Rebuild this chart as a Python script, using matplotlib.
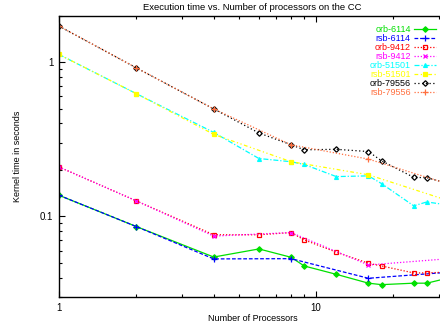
import matplotlib.pyplot as plt
from matplotlib.ticker import LogLocator, NullFormatter, FixedLocator, FixedFormatter

plt.rcParams["font.family"] = ["Liberation Sans", "DejaVu Sans"]

# processor counts
procs_orb = [1, 2, 4, 6, 8, 9, 12, 16, 18, 24, 27, 32]
procs_rsb = [1, 2, 4, 8, 16, 32]

# kernel time in seconds
orb_6114 = [0.137, 0.0859, 0.0545, 0.0615, 0.0543, 0.0477, 0.0421, 0.0369, 0.0361, 0.0369, 0.0369, 0.0395]
rsb_6114 = [0.137, 0.0859, 0.053, 0.0532, 0.0397, 0.0433]
orb_9412 = [0.209, 0.126, 0.076, 0.076, 0.0785, 0.0704, 0.0586, 0.0497, 0.0477, 0.043, 0.043, 0.0435]
rsb_9412 = [0.209, 0.126, 0.0745, 0.0785, 0.0484, 0.053]
orb_51501 = [1.12, 0.624, 0.350, 0.237, 0.226, 0.217, 0.181, 0.183, 0.163, 0.117, 0.124, 0.119]
rsb_51501 = [1.12, 0.624, 0.340, 0.226, 0.186, 0.128]
orb_79556 = [1.71, 0.917, 0.497, 0.347, 0.291, 0.270, 0.272, 0.263, 0.229, 0.179, 0.178, 0.165]
rsb_79556 = [1.71, 0.917, 0.497, 0.291, 0.235, 0.164]

SERIES = [
    ("orb-6114", procs_orb, orb_6114, "#00e000", "-", "D", True),
    ("rsb-6114", procs_rsb, rsb_6114, "#0000ff", (0, (3, 1.5)), "+", True),
    ("orb-9412", procs_orb, orb_9412, "#ff0000", (0, (1, 1.5)), "s", False),
    ("rsb-9412", procs_rsb, rsb_9412, "#ff00ff", (0, (1, 1.5)), "x", True),
    ("orb-51501", procs_orb, orb_51501, "#00ffff", (0, (4, 1.5, 1, 1.5)), "^", True),
    ("rsb-51501", procs_rsb, rsb_51501, "#ffff00", (0, (3, 2, 1, 2, 1, 2)), "s", True),
    ("orb-79556", procs_orb, orb_79556, "#000000", (0, (1, 2)), "D", False),
    ("rsb-79556", procs_rsb, rsb_79556, "#ff7040", (0, (1, 1.5)), "+", True),
]


def main() -> None:
    fig = plt.figure(figsize=(4.4, 3.25), dpi=100)
    ax = fig.add_axes([0.134, 0.086, 1.0132 - 0.134, 0.866])

    for label, xs, ys, color, ls, marker, filled in SERIES:
        ax.plot(
            xs, ys, color=color, linestyle=ls, linewidth=0.9,
            marker=marker, markersize=2.8 if marker != "+" else 4,
            markerfacecolor=color if filled else "none",
            markeredgecolor=color, markeredgewidth=0.9, label=label,
        )

    ax.set_xscale("log")
    ax.set_yscale("log")
    ax.set_xlim(1, 32)
    ax.set_ylim(0.03, 2.0)

    ax.xaxis.set_major_locator(FixedLocator([1, 10]))
    ax.xaxis.set_major_formatter(FixedFormatter(["1", "10"]))
    ax.xaxis.set_minor_locator(LogLocator(base=10, subs=range(2, 10)))
    ax.xaxis.set_minor_formatter(NullFormatter())
    ax.yaxis.set_major_locator(FixedLocator([0.1, 1]))
    ax.yaxis.set_major_formatter(FixedFormatter(["0.1", "1"]))
    ax.yaxis.set_minor_locator(LogLocator(base=10, subs=range(2, 10)))
    ax.yaxis.set_minor_formatter(NullFormatter())

    ax.tick_params(which="both", direction="in", top=True, right=True, labelsize=7, width=0.8)
    ax.tick_params(which="major", length=4, pad=4)
    ax.tick_params(which="minor", length=2)
    for spine in ax.spines.values():
        spine.set_linewidth(1.0)

    ax.set_title("Execution time vs. Number of processors on the CC", fontsize=6.8, pad=4)
    ax.set_xlabel("Number of Processors", fontsize=6.5, labelpad=1)
    ax.set_ylabel("Kernel time in seconds", fontsize=6.5, labelpad=13)

    handles, labels = ax.get_legend_handles_labels()
    leg = fig.legend(
        handles, labels, loc="upper right", bbox_to_anchor=(1.003, 0.94),
        frameon=False, markerfirst=False, fontsize=6.5, labelspacing=0.0,
        handlelength=2.4, handletextpad=0.4, borderpad=0.1, labelcolor="linecolor",
    )
    for text in leg.get_texts():
        text.set_ha("right")

    fig.savefig("out.png", dpi=100)
    plt.close(fig)


if __name__ == "__main__":
    main()
